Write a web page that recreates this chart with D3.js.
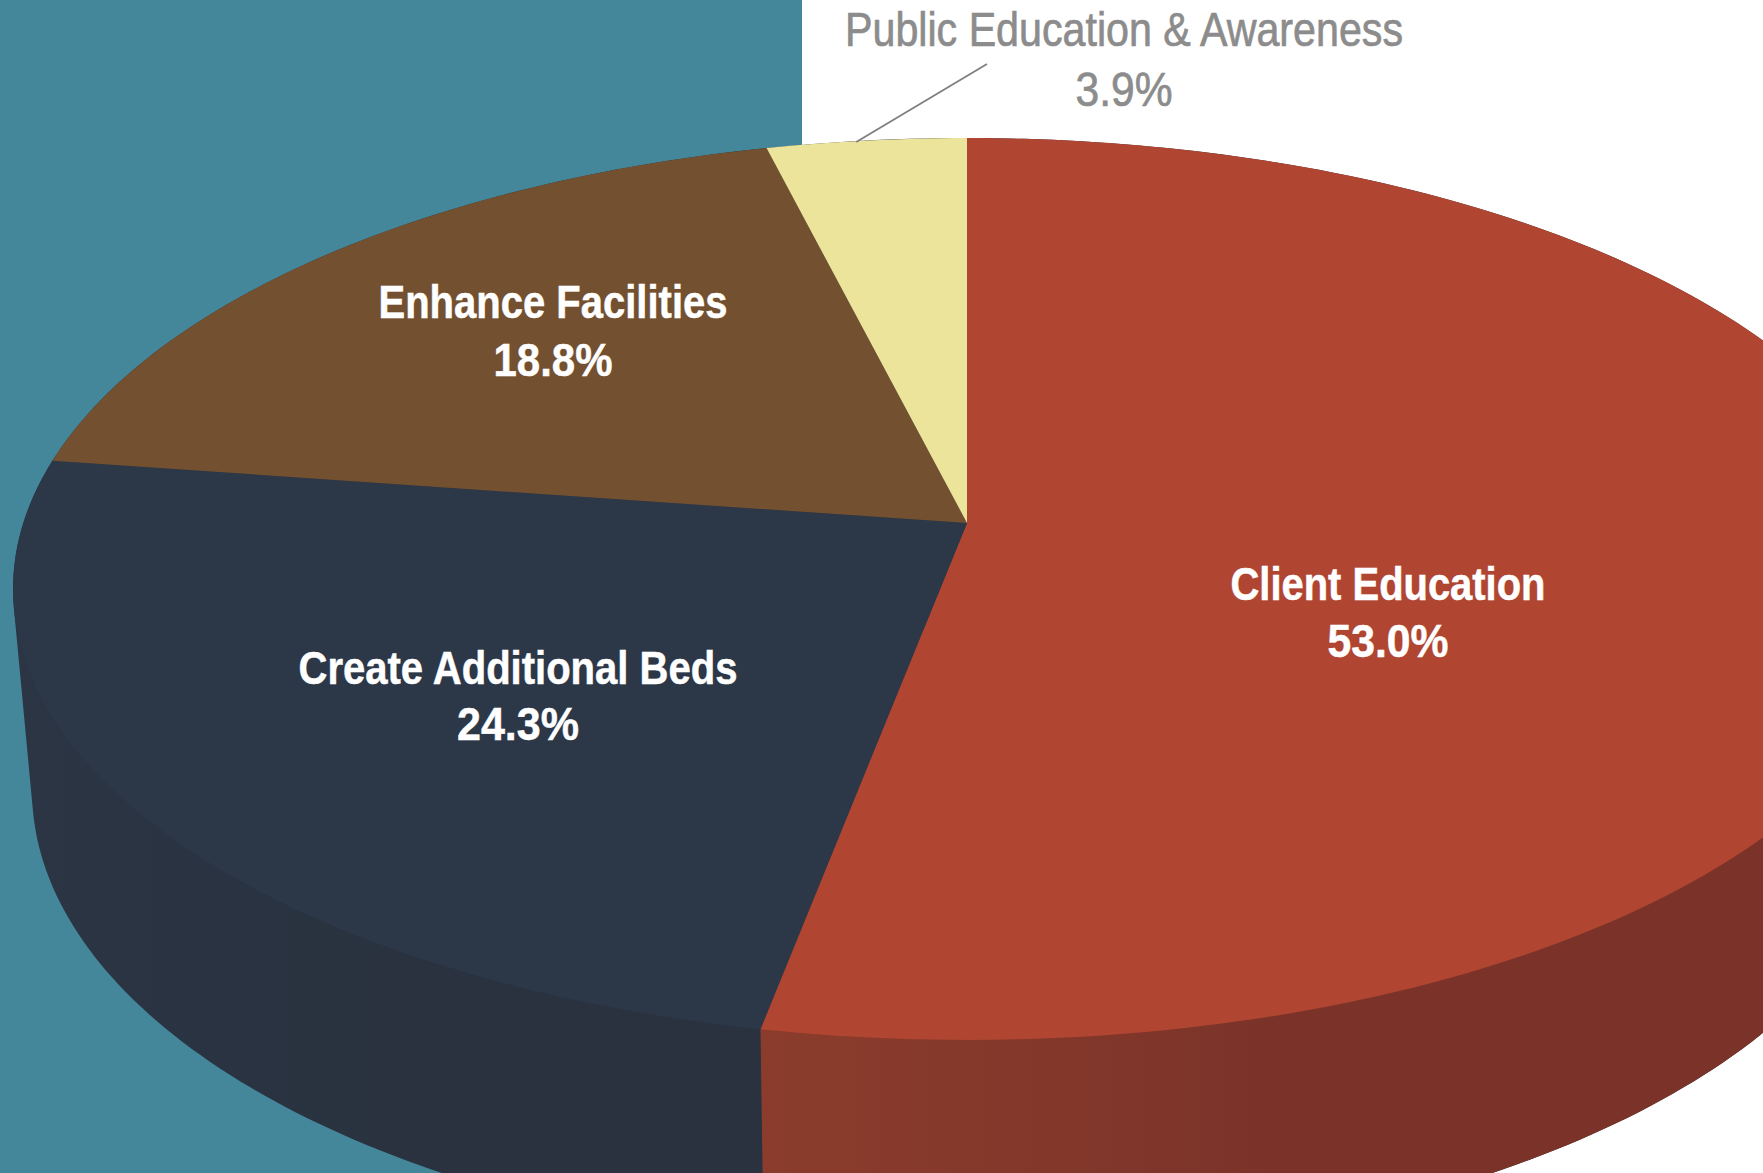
<!DOCTYPE html>
<html><head><meta charset="utf-8">
<script src="https://cdn.jsdelivr.net/npm/d3@7"></script>
<style>html,body{margin:0;padding:0;background:#fff;overflow:hidden}svg{display:block}</style>
</head><body><svg id="c" width="1763" height="1173"></svg>
<script>
// Data
const categories = ["Client Education","Create Additional Beds","Enhance Facilities","Public Education & Awareness"];
const values = [53.0,24.3,18.8,3.9];
const valueLabels = ["53.0%","24.3%","18.8%","3.9%"];

// Styling & layout
const topColors = ["#b04632","#2c3748","#73502f","#ebe49a"];
const layout = [
  {cx:1388,y1:600,y2:657,w1:315,w2:121,fill:"#fff",size:46,weight:700,sw:0.5},
  {cx:518,y1:683.5,y2:740,w1:439,w2:122,fill:"#fff",size:46,weight:700,sw:0.5},
  {cx:553,y1:318,y2:375.5,w1:349,w2:119,fill:"#fff",size:46,weight:700,sw:0.5},
  {cx:1124,y1:46,y2:106,w1:558,w2:97,fill:"#8c8c8c",size:48,weight:400,sw:0.7}
];
const W=1763,H=1173,pc=967,pcy=523,persp=-0.1463,Bx=943.7,Ay=441.3;
const bot={cx:967,cy:790,a:935,b:463};
const svg=d3.select("#c");

// perspective projection of the unit disc (angle clockwise from top)
const project=(r,t)=>{const u=r*Math.sin(t),v=-r*Math.cos(t),w=1+persp*v;return [pc+Bx*u/w,pcy+Ay*v/w];};
const arcs=d3.pie().sort(null)(values);
const line=d3.line();
const TAU=Math.PI*2;

svg.append("rect").attr("width",W).attr("height",H).attr("fill","#fff");
svg.append("rect").attr("width",802).attr("height",H).attr("fill","#44879b");

// gradients for side walls
const defs=svg.append("defs");
function grad(id,stops){const g=defs.append("linearGradient").attr("id",id).attr("gradientUnits","userSpaceOnUse").attr("x1",0).attr("x2",W).attr("y1",0).attr("y2",0);
  stops.forEach(s=>g.append("stop").attr("offset",s[0]).attr("stop-color",s[1]));}
grad("sideRed",[[0.43,"#8b3c2c"],[0.55,"#85392b"],[0.72,"#7b3329"],[1,"#7b3329"]]);
grad("sideNavy",[[0,"#2b3543"],[0.12,"#2a3341"],[0.25,"#29323e"],[0.45,"#29323e"]]);

// body silhouette = hull of top and bottom ellipses
const angles=d3.range(0,360,1).map(d=>d*Math.PI/180);
const hull=d3.polygonHull(angles.flatMap(t=>[project(1,t),[bot.cx+bot.a*Math.sin(t),bot.cy-bot.b*Math.cos(t)]]));
const P=project(1,arcs[0].endAngle);
const cut=[P[0]+3,H+60];
defs.append("clipPath").attr("id","rightOfCut").append("path").attr("d",line([P,cut,[W+300,H+60],[W+300,P[1]-400],[P[0],P[1]-400]])+"Z");
svg.append("path").attr("d",line(hull)+"Z").attr("fill","url(#sideNavy)");
svg.append("path").attr("d",line(hull)+"Z").attr("fill","url(#sideRed)").attr("clip-path","url(#rightOfCut)");

// top disc slices
const slicePts=d=>{const n=Math.max(8,Math.ceil((d.endAngle-d.startAngle)/TAU*360));
  return [[pc,pcy]].concat(d3.range(n+1).map(i=>project(1,d.startAngle+(d.endAngle-d.startAngle)*i/n)));};
svg.selectAll("path.slice").data(arcs).join("path").attr("class","slice")
  .attr("d",d=>line(slicePts(d))+"Z").attr("fill",(d,i)=>topColors[i]);

// leader line
const lead=project(1,arcs[3].startAngle+(arcs[3].endAngle-arcs[3].startAngle)*0.45);
svg.append("line").attr("x1",lead[0]).attr("y1",lead[1]+1).attr("x2",987).attr("y2",64).attr("stroke","#7f7f7f").attr("stroke-width",1.8);

// labels
const font="'Liberation Sans Narrow','Liberation Sans',Arial,sans-serif";
categories.forEach((c,i)=>{const L=layout[i];
  [[c,L.y1,L.w1],[valueLabels[i],L.y2,L.w2]].forEach(([t,y,w])=>{
    svg.append("text").attr("x",L.cx).attr("y",y).attr("text-anchor","middle")
      .attr("font-family",font).attr("font-size",L.size).attr("font-weight",L.weight).attr("fill",L.fill)
      .attr("stroke",L.fill).attr("stroke-width",L.sw)
      .attr("textLength",w).attr("lengthAdjust","spacingAndGlyphs").text(t);
  });
});
</script></body></html>
